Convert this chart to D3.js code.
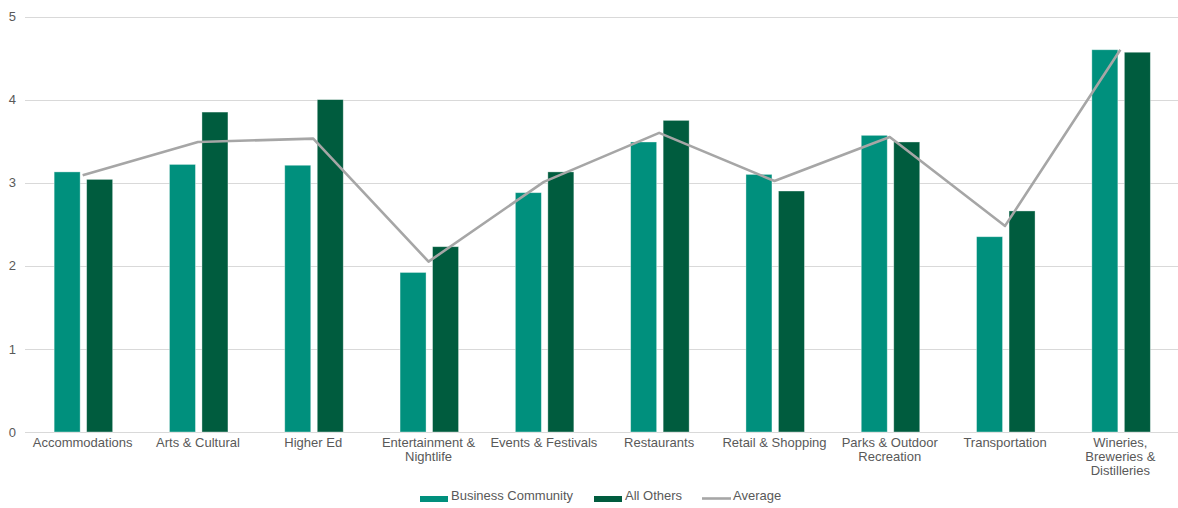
<!DOCTYPE html>
<html>
<head>
<meta charset="utf-8">
<script src="https://cdn.jsdelivr.net/npm/d3@7"></script>
<style>
  html, body { margin: 0; padding: 0; background: #ffffff; }
  svg { display: block; font-family: "Liberation Sans", Arial, sans-serif; }
</style>
</head>
<body>
<svg id="chart" width="1178" height="508"></svg>
<script>
// Category labels (line breaks mark wrapped label lines)
const categories = [
  "Accommodations",
  "Arts & Cultural",
  "Higher Ed",
  "Entertainment &\nNightlife",
  "Events & Festivals",
  "Restaurants",
  "Retail & Shopping",
  "Parks & Outdoor\nRecreation",
  "Transportation",
  "Wineries,\nBreweries &\nDistilleries"
];

const businessCommunity = [3.13, 3.22, 3.21, 1.92, 2.88, 3.49, 3.10, 3.57, 2.35, 4.60];
const allOthers         = [3.04, 3.85, 4.00, 2.23, 3.13, 3.75, 2.90, 3.49, 2.66, 4.57];
const average           = [3.09, 3.49, 3.53, 2.05, 3.01, 3.60, 3.02, 3.55, 2.48, 4.60];

const yTicks = [0, 1, 2, 3, 4, 5];
const seriesNames = ["Business Community", "All Others"];
const seriesColors = ["#00907D", "#005C3E"];
const lineName = "Average";
const lineColor = "#A6A6A6";

const svg = d3.select("#chart");
const plotLeft = 25, plotRight = 1178, plotTop = 16.5, plotBottom = 432;

const x = d3.scaleBand().domain(categories).range([plotLeft, plotRight]).padding(0);
const x1 = d3.scaleBand().domain(seriesNames).range([-28.5, 30]).paddingInner(0.2);
const y = d3.scaleLinear().domain([0, 5]).range([plotBottom, plotTop]);

// Horizontal gridlines
svg.append("g")
  .selectAll("line")
  .data(yTicks)
  .join("line")
  .attr("x1", plotLeft).attr("x2", plotRight)
  .attr("y1", d => Math.round(y(d)) + 0.5)
  .attr("y2", d => Math.round(y(d)) + 0.5)
  .attr("stroke", "#D9D9D9")
  .attr("stroke-width", 1);

// Y axis labels
const yAxis = d3.axisLeft(y).tickValues(yTicks).tickSize(0).tickPadding(0).tickFormat(d3.format("d"));
svg.append("g")
  .attr("transform", `translate(${plotLeft - 9},0)`)
  .call(yAxis)
  .call(g => g.select(".domain").remove())
  .call(g => g.selectAll("text")
    .attr("font-size", 13)
    .attr("fill", "#595959")
    .attr("font-family", "'Liberation Sans', Arial, sans-serif"));

// Grouped bars
const seriesData = [businessCommunity, allOthers];
const groups = svg.append("g")
  .selectAll("g")
  .data(categories)
  .join("g")
  .attr("transform", d => `translate(${x(d) + x.bandwidth() / 2},0)`);

groups.selectAll("rect")
  .data((d, i) => seriesNames.map((s, k) => ({ s, v: seriesData[k][i], c: seriesColors[k] })))
  .join("rect")
  .attr("x", d => x1(d.s))
  .attr("width", x1.bandwidth())
  .attr("y", d => y(d.v))
  .attr("height", d => y(0) - y(d.v))
  .attr("fill", d => d.c)
  .attr("stroke", "rgba(255,255,255,0.45)")
  .attr("stroke-width", 0.8);

// Average line
const line = d3.line()
  .x((d, i) => x(categories[i]) + x.bandwidth() / 2)
  .y(d => y(d));
svg.append("path")
  .datum(average)
  .attr("d", line)
  .attr("fill", "none")
  .attr("stroke", lineColor)
  .attr("stroke-width", 2.6)
  .attr("stroke-linejoin", "round");

// Category labels
const labels = svg.append("g")
  .selectAll("text")
  .data(categories)
  .join("text")
  .attr("x", d => x(d) + x.bandwidth() / 2)
  .attr("y", 447)
  .attr("text-anchor", "middle")
  .attr("font-size", 13)
  .attr("fill", "#595959");
labels.selectAll("tspan")
  .data(d => d.split("\n"))
  .join("tspan")
  .attr("x", function () { return d3.select(this.parentNode).attr("x"); })
  .attr("dy", (d, i) => i === 0 ? 0 : 14)
  .text(d => d);

// Legend
const legend = svg.append("g").attr("font-size", 13).attr("fill", "#595959");
const legendItems = [
  { name: seriesNames[0], color: seriesColors[0], type: "rect", x: 420 },
  { name: seriesNames[1], color: seriesColors[1], type: "rect", x: 594 },
  { name: lineName, color: lineColor, type: "line", x: 702 }
];
legendItems.forEach(it => {
  if (it.type === "rect") {
    legend.append("rect")
      .attr("x", it.x).attr("y", 496)
      .attr("width", 28).attr("height", 6)
      .attr("fill", it.color);
  } else {
    legend.append("line")
      .attr("x1", it.x).attr("x2", it.x + 29)
      .attr("y1", 498.5).attr("y2", 498.5)
      .attr("stroke", it.color).attr("stroke-width", 2.6);
  }
  legend.append("text")
    .attr("x", it.x + 31)
    .attr("y", 500)
    .text(it.name);
});
</script>
</body>
</html>
